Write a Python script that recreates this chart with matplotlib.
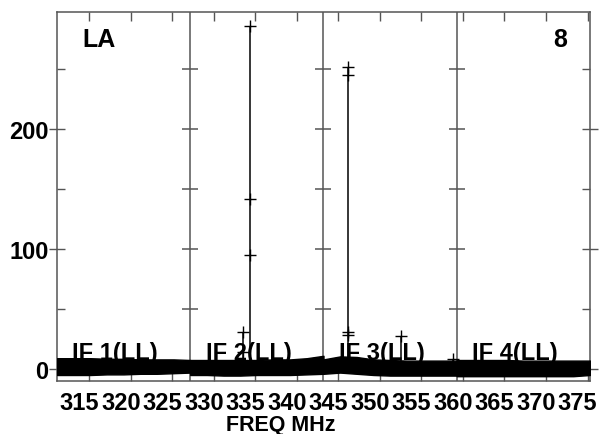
import matplotlib
matplotlib.use("Agg")
import matplotlib.pyplot as plt
from matplotlib.transforms import ScaledTranslation
import numpy as np

# ---------------- data ----------------
if_edges = [311.1, 327.15, 343.2, 359.25, 375.3]
if_labels = ["IF 1(LL)", "IF 2(LL)", "IF 3(LL)", "IF 4(LL)"]
x_ticks = [315, 320, 325, 330, 335, 340, 345, 350, 355, 360, 365, 370, 375]
y_major = [0, 100, 200]
y_minor = [50, 150, 250]

# noise band (low / high envelope of the channel error bars), 9 samples per IF
band_low = [
    [-5, -5, -5, -4.5, -4.5, -4, -4, -3.5, -3],
    [-5, -5, -5.5, -5.5, -5, -5, -5, -4.5, -4],
    [-4, -3, -4, -5, -5.5, -5.5, -5.5, -5.5, -5.5],
    [-6, -6, -6, -6, -6, -6, -6, -6, -5],
]
band_high = [
    [9, 9, 9, 8.5, 8.5, 8, 8, 8, 7.5],
    [7.5, 7.5, 7.5, 7.5, 7.5, 8, 8, 9, 11],
    [8, 10.5, 10, 8, 7.5, 7, 7, 7, 7],
    [7.5, 7.5, 7.5, 7.5, 7, 7, 7, 7, 7],
]

# spikes: vertical error-bar lines
spike_freq = [334.3, 346.2, 333.5, 352.5, 358.8]
spike_low = [5, 5, 5, 5, 5]
spike_high = [286, 252, 31, 27.5, 8]

# '+' marks on spikes
mark_freq = [334.3, 334.3, 334.3, 333.5, 333.5, 346.2, 346.2, 346.2, 346.2, 352.5, 358.8]
mark_val = [286, 142, 95, 31, 14, 252, 245, 31, 28, 27.5, 8]

# ---------------- figure ----------------
plt.rcParams["font.family"] = ["Liberation Sans", "DejaVu Sans"]
GRAY = "#555555"

fig = plt.figure(figsize=(6.02, 4.35), dpi=100)
W, H = 602, 435
L, R, T, B = 57, 590, 13, 382
ax = fig.add_axes([L / W, (H - B) / H, (R - L) / W, (B - T) / H])
ax.set_xlim(if_edges[0], if_edges[-1])
ax.set_ylim(-10, 297.5)

for s in ax.spines.values():
    s.set_color(GRAY)
    s.set_linewidth(1.1)

# dividers
for e in if_edges[1:-1]:
    ax.axvline(e, color=GRAY, lw=1.1, zorder=2)
    ax.plot([e] * (len(y_major) + len(y_minor)), sorted(y_major + y_minor),
            ls="none", marker="_", ms=11.5, mew=1.1, color=GRAY, zorder=2)

# band
for i in range(4):
    f = np.linspace(if_edges[i], if_edges[i + 1], len(band_low[i]))
    ax.fill_between(f, band_low[i], band_high[i], color="black", lw=1.0, zorder=4)

# spikes
ax.vlines(spike_freq, spike_low, spike_high, color="black", lw=1.1, zorder=4)
ax.plot(mark_freq, mark_val, ls="none", marker="+", ms=9, mew=1.0, color="black", zorder=4)

# IF labels
for i, lab in enumerate(if_labels):
    ax.text(if_edges[i] + 1.85, 8, lab, fontsize=17, fontweight="bold",
            ha="left", va="baseline", zorder=3)

ax.text(0.047, 0.908, "LA", transform=ax.transAxes, fontsize=18, fontweight="bold",
        ha="left", va="baseline")
ax.text(0.957, 0.908, "8", transform=ax.transAxes, fontsize=18, fontweight="bold",
        ha="right", va="baseline")

# ticks
ax.set_xticks(x_ticks)
ax.set_xticklabels([str(v) for v in x_ticks])
ax.set_yticks(y_major)
ax.set_yticklabels([str(v) for v in y_major])
ax.set_yticks(y_minor, minor=True)
ax.tick_params(axis="x", which="major", direction="in", length=6.5, width=1.0,
               color=GRAY, top=True, bottom=True, pad=7.5)
ax.tick_params(axis="y", which="major", direction="inout", length=11, width=1.0,
               color=GRAY, left=True, right=True, pad=0.5)
ax.tick_params(axis="y", which="minor", direction="in", length=6, width=1.0,
               color=GRAY, left=True, right=True)
for lab in ax.get_xticklabels() + ax.get_yticklabels():
    lab.set_fontsize(17)
    lab.set_fontweight("bold")
off = ScaledTranslation(-10 / 100, 0, fig.dpi_scale_trans)
for lab in ax.get_xticklabels():
    lab.set_transform(lab.get_transform() + off)

fig.text(281 / W, (H - 431) / H, "FREQ MHz", fontsize=15.5, fontweight="bold",
         ha="center", va="baseline")

fig.savefig("out.png", dpi=100)
